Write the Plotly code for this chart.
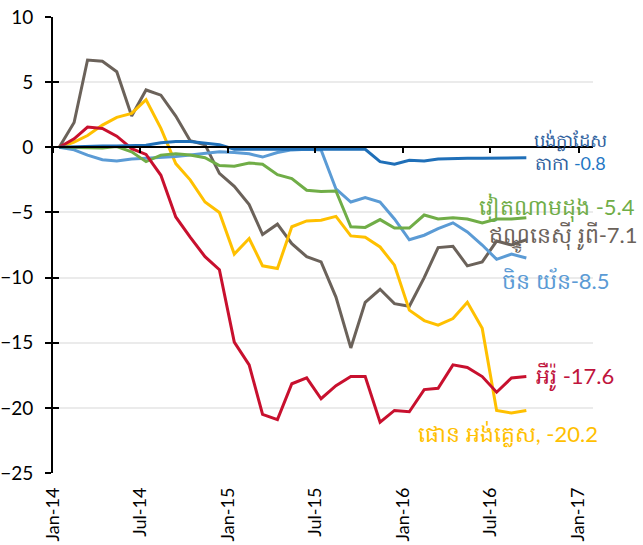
import plotly.graph_objects as go

# Monthly observations, Jan 2014 .. Sep 2016 (mid-month)
months = [f"{y}-{m:02d}-14" for y in (2014, 2015, 2016) for m in range(1, 13)][:33]

bangladesh = [0, 0.05, 0.1, 0.1, 0.1, 0.15, 0.15, 0.35, 0.45, 0.45, 0.35, 0.2,
              -0.15, -0.15, -0.1, -0.1, -0.1, -0.1, -0.1, -0.1, -0.15, -0.15,
              -1.1, -1.3, -1.0, -1.05, -0.9, -0.85, -0.85, -0.85, -0.85, -0.85, -0.8]
vietnam = [0, 0, 0, -0.05, 0.05, -0.35, -1.1, -0.6, -0.5, -0.6, -0.8, -1.4,
           -1.45, -1.2, -1.3, -2.1, -2.4, -3.3, -3.4, -3.35, -6.1, -6.15,
           -5.55, -6.2, -6.2, -5.2, -5.5, -5.4, -5.5, -5.8, -5.5, -5.5, -5.4]
indonesia = [0, 1.9, 6.7, 6.6, 5.8, 2.4, 4.4, 4.0, 2.4, 0.5, 0.2, -2.0,
             -3.0, -4.4, -6.7, -5.9, -7.4, -8.4, -8.8, -11.5, -15.4, -11.9,
             -10.9, -12.0, -12.2, -10.0, -7.7, -7.6, -9.1, -8.8, -7.2, -7.5, -7.1]
china = [0, -0.2, -0.6, -0.95, -1.05, -0.9, -0.85, -0.8, -0.7, -0.6, -0.5, -0.35,
         -0.4, -0.5, -0.75, -0.4, -0.2, -0.15, -0.2, -3.2, -4.2, -3.85,
         -4.2, -5.5, -7.1, -6.75, -6.25, -5.8, -6.5, -7.5, -8.6, -8.2, -8.5]
euro = [0, 0.65, 1.55, 1.45, 0.85, -0.1, -0.55, -2.15, -5.35, -6.9, -8.4, -9.4,
        -14.95, -16.7, -20.5, -20.9, -18.15, -17.7, -19.3, -18.3, -17.6, -17.6,
        -21.1, -20.2, -20.3, -18.6, -18.5, -16.7, -16.9, -17.6, -18.8, -17.7, -17.6]
pound = [0, 0.4, 0.9, 1.7, 2.3, 2.6, 3.65, 1.45, -1.25, -2.5, -4.2, -5.0,
         -8.2, -7.0, -9.1, -9.3, -6.1, -5.65, -5.6, -5.3, -6.8, -6.9,
         -7.65, -9.05, -12.5, -13.3, -13.65, -13.15, -11.9, -13.9, -20.2, -20.4, -20.2]

tick_dates = ["2014-01-01", "2014-07-01", "2015-01-01", "2015-07-01",
              "2016-01-01", "2016-07-01", "2017-01-01"]
tick_text = ["Jan-14", "Jul-14", "Jan-15", "Jul-15", "Jan-16", "Jul-16", "Jan-17"]

series = [
    ("Indonesia", indonesia, "#6B625A"),
    ("UK pound", pound, "#FFC000"),
    ("China", china, "#5B9BD5"),
    ("Vietnam", vietnam, "#70AD47"),
    ("Euro", euro, "#C8102E"),
    ("Bangladesh", bangladesh, "#1F6FB8"),
]

fig = go.Figure()
for name, vals, col in series:
    fig.add_trace(go.Scatter(x=months, y=vals, mode="lines", name=name,
                             line=dict(color=col, width=3), xaxis="x",
                             hoverinfo="skip"))
# helper trace so the overlay axes (zero-crossing x axis, inner y ticks) are drawn
fig.add_trace(go.Scatter(x=[months[0]], y=[0], mode="lines", xaxis="x2",
                         yaxis="y2", showlegend=False, hoverinfo="skip",
                         line=dict(width=0)))

font = "Lato, 'Open Sans', sans-serif"
xr = ["2014-01-01", "2017-01-31"]
yr = [-25, 10]
fig.update_layout(
    width=643, height=545,
    margin=dict(l=53, r=50, t=17, b=72),
    paper_bgcolor="white", plot_bgcolor="white",
    showlegend=False,
    font=dict(family=font, color="black"),
    xaxis=dict(range=xr, tickvals=tick_dates, ticktext=tick_text,
               tickangle=-90, showgrid=False, showline=False, zeroline=False,
               ticks="", automargin=False, ticklabelstandoff=10,
               tickfont=dict(size=18, color="black")),
    xaxis2=dict(range=xr, matches="x", overlaying="x", anchor="free",
                position=25 / 35, showline=True, linecolor="black",
                linewidth=2, ticks="outside", ticklen=5, tickwidth=2,
                tickcolor="black", tickvals=tick_dates, automargin=False,
                showticklabels=False, showgrid=False, zeroline=False),
    yaxis=dict(range=yr, dtick=5, showgrid=True, gridcolor="#EBEBEB",
               gridwidth=1.5, zeroline=False, showline=True, linecolor="black",
               linewidth=2, ticks="outside", ticklen=6, tickwidth=2,
               tickcolor="black", automargin=False, ticklabelstandoff=8,
               tickfont=dict(size=19, color="black")),
    yaxis2=dict(range=yr, matches="y", overlaying="y", anchor="x", side="left",
                dtick=5, showgrid=False, zeroline=False, showline=False,
                ticks="inside", ticklen=6, tickwidth=2, tickcolor="black",
                showticklabels=False, automargin=False),
)

def lab(text, x, y, color, size=22, anchor="left"):
    fig.add_annotation(text=text, xref="paper", yref="paper", x=x, y=y,
                       xanchor=anchor, yanchor="middle", showarrow=False,
                       font=dict(size=size, color=color, family=font), align="center")

lab("បង់ក្លាដែស<br>តាកា <span style='color:#1F77C4'>-0.8</span>",
    0.959, 0.704, "#2F5F9E", size=18, anchor="center")
lab("វៀតណាមដុង -5.4", 0.785, 0.583, "#70AD47")
lab("ឥណ្ឌូនេស៊ី រូពី-7.1", 0.804, 0.518, "#6B625A")
lab("ចិន យ័ន-8.5", 0.828, 0.423, "#5B9BD5")
lab("អឺរ៉ូ -17.6", 0.89, 0.211, "#C0143C")
lab("ផោន អង់គ្លេស, -20.2", 0.672, 0.086, "#FFC000")

fig.write_html("out.html", config={"displayModeBar": False},
               post_script="document.body.style.margin='0';"
                           "document.body.style.overflow='hidden';")
